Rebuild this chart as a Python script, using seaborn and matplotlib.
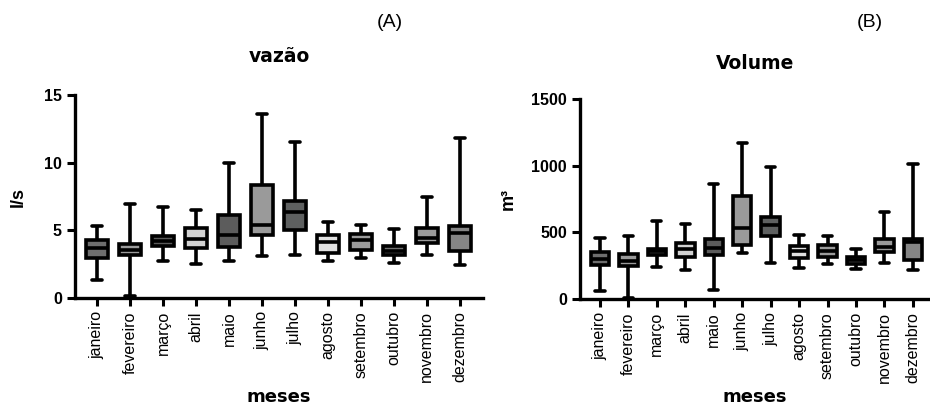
import matplotlib
matplotlib.use('Agg')
import matplotlib.pyplot as plt
import pandas as pd
import seaborn as sns

sns.set_style('ticks')
plt.rcParams['font.family'] = ['Liberation Sans', 'DejaVu Sans']
plt.rcParams['text.color'] = 'black'
plt.rcParams['axes.labelcolor'] = 'black'
plt.rcParams['xtick.color'] = 'black'
plt.rcParams['ytick.color'] = 'black'
plt.rcParams['axes.edgecolor'] = 'black'

meses = ['janeiro', 'fevereiro', 'março', 'abril', 'maio', 'junho',
         'julho', 'agosto', 'setembro', 'outubro', 'novembro', 'dezembro']

# box summaries: min, q1, median, q3, max
vazao_min = [1.30, 0.17, 2.75, 2.53, 2.70, 3.07, 3.15, 2.70, 2.95, 2.58, 3.15, 2.46]
vazao_q1 = [2.95, 3.15, 3.86, 3.66, 3.76, 4.62, 4.99, 3.34, 3.54, 3.17, 4.03, 3.44]
vazao_med = [3.69, 3.57, 4.23, 4.35, 4.65, 5.41, 6.34, 4.13, 4.25, 3.49, 4.43, 4.84]
vazao_q3 = [4.25, 4.00, 4.55, 5.14, 6.12, 8.34, 7.16, 4.62, 4.75, 3.81, 5.21, 5.29]
vazao_max = [5.29, 6.96, 6.76, 6.47, 10.0, 13.57, 11.5, 5.60, 5.41, 5.11, 7.50, 11.8]

volume_min = [57, 7, 242, 220, 65, 347, 272, 232, 262, 227, 270, 215]
volume_q1 = [252, 250, 327, 314, 327, 402, 474, 307, 312, 265, 349, 295]
volume_med = [302, 287, 357, 377, 384, 532, 557, 362, 359, 290, 387, 427]
volume_q3 = [349, 334, 377, 419, 449, 771, 619, 397, 404, 312, 449, 452]
volume_max = [459, 474, 587, 562, 861, 1168, 993, 484, 469, 377, 651, 1016]

# fill colours of the boxes
cores = ['#6e6e6e', '#9a9a9a', '#5a5a5a', '#d2d2d2', '#5c5c5c', '#9a9a9a',
         '#5e6060', '#e0e0e0', '#9a9a9a', '#707070', '#9a9a9a', '#858585']


def montar(mins, q1s, meds, q3s, maxs):
    # five points per month give exactly these quartiles
    linhas = []
    for i, m in enumerate(meses):
        for v in (mins[i], q1s[i], meds[i], q3s[i], maxs[i]):
            linhas.append({'mes': m, 'valor': v})
    return pd.DataFrame(linhas)


df_vazao = montar(vazao_min, vazao_q1, vazao_med, vazao_q3, vazao_max)
df_volume = montar(volume_min, volume_q1, volume_med, volume_q3, volume_max)

fig = plt.figure(figsize=(9.3, 4.08), dpi=100)
ax1 = fig.add_axes([0.0806, 0.2696, 0.4387, 0.4975])
ax2 = fig.add_axes([0.6237, 0.2672, 0.3763, 0.4898])

fonte_titulo = ['DejaVu Sans']


def desenhar(ax, df, ylim, yticks, titulo, ylabel, xlim, pad, ylab_x):
    sns.boxplot(data=df, x='mes', y='valor', hue='mes', palette=cores,
                order=meses, hue_order=meses, whis=(0, 100), width=0.65,
                linecolor='black', linewidth=2.6, legend=False, ax=ax,
                saturation=1)
    ax.set_ylim(*ylim)
    ax.set_xlim(*xlim)
    ax.set_yticks(yticks)
    ax.set_title(titulo, fontsize=13.5, fontweight='bold', pad=pad,
                 family=fonte_titulo)
    ax.set_xlabel('meses', fontsize=13, fontweight='bold',
                  family=fonte_titulo)
    ax.xaxis.set_label_coords(0.5, ylab_x)
    ax.xaxis.label.set_va('center')
    ax.set_ylabel(ylabel, fontsize=13, fontweight='bold')
    ax.tick_params(axis='x', rotation=90, labelsize=11.5, length=6, width=2.2)
    ax.tick_params(axis='y', labelsize=11.5, length=6, width=2.2)
    for lab in ax.get_yticklabels():
        lab.set_fontweight('bold')
    sns.despine(ax=ax)
    for s in ('left', 'bottom'):
        ax.spines[s].set_linewidth(2.4)


desenhar(ax1, df_vazao, (0, 15), [0, 5, 10, 15], 'vazão', 'l/s',
         (-0.67, 11.7), 24, -0.488)
desenhar(ax2, df_volume, (0, 1500), [0, 500, 1000, 1500], 'Volume', 'm³',
         (-0.7, 11.6), 22, -0.49)
ax1.yaxis.labelpad = 12
ax2.yaxis.labelpad = 10

fig.text(0.419, 0.945, '(A)', fontsize=14, ha='center', va='center')
fig.text(0.935, 0.945, '(B)', fontsize=14, ha='center', va='center')

fig.savefig('out.png', dpi=100)
